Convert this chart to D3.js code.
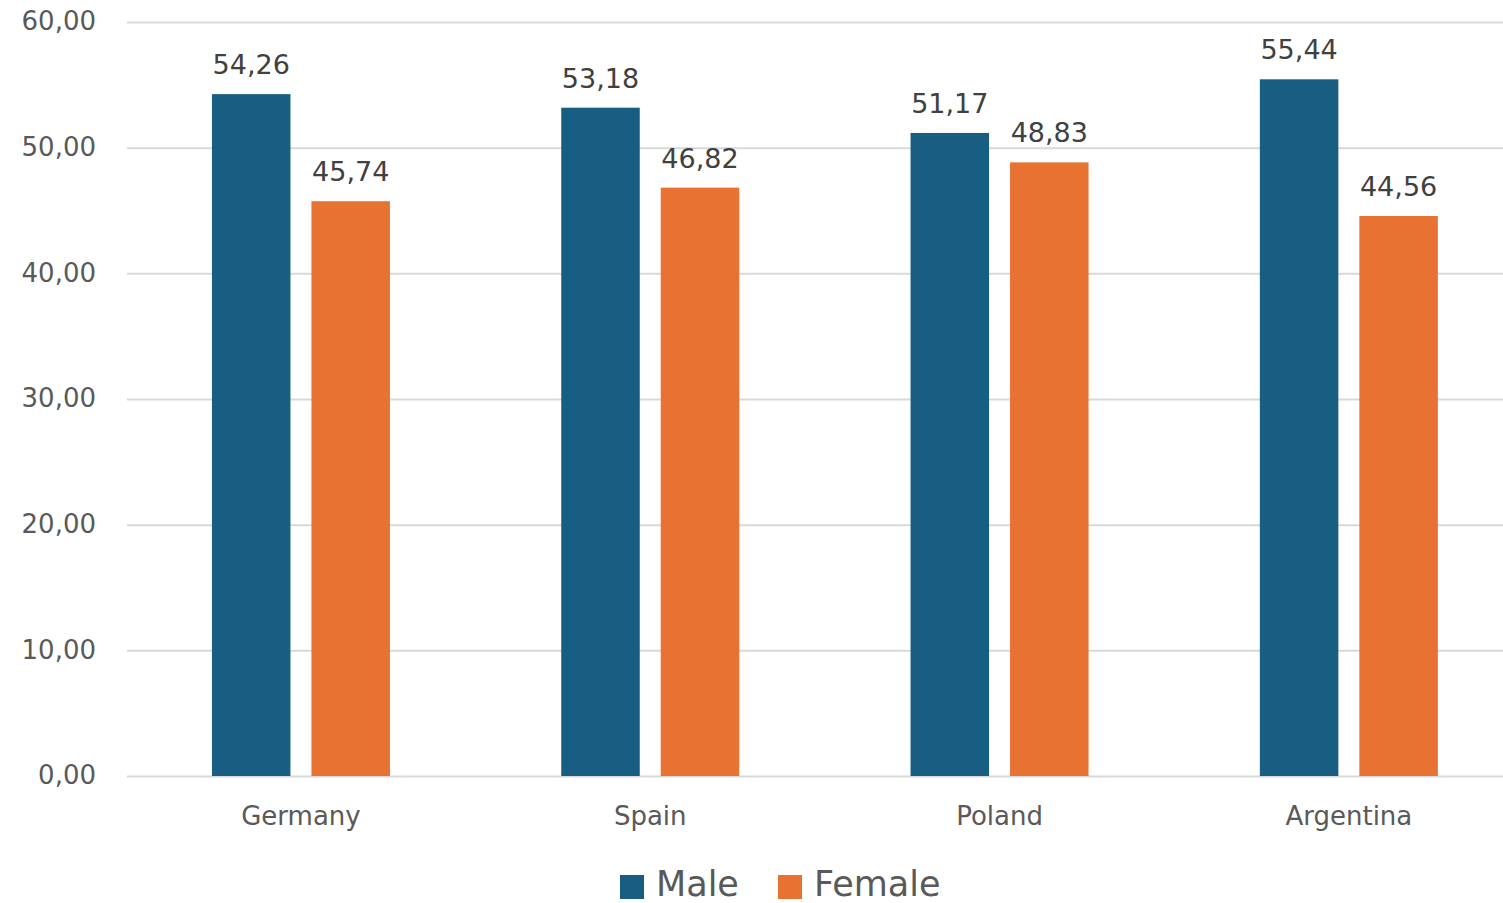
<!DOCTYPE html>
<html>
<head>
<meta charset="utf-8">
<script src="https://cdn.jsdelivr.net/npm/d3@7"></script>
<style>
  html, body { margin: 0; padding: 0; background: #fff; }
  svg { display: block; font-family: "DejaVu Sans", Inter, sans-serif; }
</style>
</head>
<body>
<svg id="chart" width="1503" height="903"></svg>
<script>
const categories = ["Germany", "Spain", "Poland", "Argentina"];
const seriesNames = ["Male", "Female"];
const maleValues = [54.26, 53.18, 51.17, 55.44];
const femaleValues = [45.74, 46.82, 48.83, 44.56];
const yTicks = [0, 10, 20, 30, 40, 50, 60];
const colors = ["#175E82", "#E87232"];

const seriesValues = [maleValues, femaleValues];
const fmt = v => d3.format(".2f")(v).replace(".", ",");
const FONT = "'DejaVu Sans', Inter, sans-serif";

const svg = d3.select("#chart");
const plotLeft = 126.3, plotRight = 1523.5, plotTop = 22, plotBottom = 776;

const x0 = d3.scaleBand().domain(categories).range([plotLeft, plotRight]).padding(0);
const groupW = 178;
const x1 = d3.scaleBand().domain(seriesNames).range([0, groupW]).paddingInner(0.211).paddingOuter(0);
const y = d3.scaleLinear().domain([0, 60]).range([plotBottom, plotTop]);

// gridlines + y tick labels
const yAxis = d3.axisLeft(y).tickValues(yTicks).tickSize(-(1503 - 127)).tickFormat(fmt).tickPadding(31);
const gy = svg.append("g").attr("transform", "translate(127,0)").call(yAxis);
gy.attr("font-family", null);
gy.select(".domain").remove();
gy.selectAll(".tick line").attr("stroke", "#D9D9D9").attr("stroke-width", 2);
gy.selectAll(".tick text").attr("fill", "#595959").style("font-family", FONT).style("font-size", "26px").attr("dy", "0.3em");

// bars
const groups = svg.append("g").selectAll("g").data(categories).join("g")
  .attr("transform", d => `translate(${x0(d) + (x0.bandwidth() - groupW) / 2},0)`);

groups.selectAll("rect").data((d, i) => seriesNames.map((s, j) => ({ s, v: seriesValues[j][i], j })))
  .join("rect")
  .attr("x", d => x1(d.s))
  .attr("width", x1.bandwidth())
  .attr("y", d => y(d.v))
  .attr("height", d => y(0) - y(d.v))
  .attr("fill", d => colors[d.j]);

groups.selectAll("text.lbl").data((d, i) => seriesNames.map((s, j) => ({ s, v: seriesValues[j][i], j })))
  .join("text")
  .attr("class", "lbl")
  .attr("x", d => x1(d.s) + x1.bandwidth() / 2)
  .attr("y", d => y(d.v) - 20)
  .attr("text-anchor", "middle")
  .attr("fill", "#404040")
  .style("font-size", "27px")
  .text(d => fmt(d.v));

// x axis labels
const xAxis = d3.axisBottom(x0).tickSize(0).tickPadding(31);
const gx = svg.append("g").attr("transform", `translate(0,${plotBottom})`).call(xAxis);
gx.attr("font-family", null);
gx.select(".domain").remove();
gx.selectAll(".tick text").attr("fill", "#595959").style("font-family", FONT).style("font-size", "26px");

// legend
const legend = svg.append("g");
const legendItems = [{ name: "Male", x: 620, tx: 656 }, { name: "Female", x: 778, tx: 814 }];
legendItems.forEach((it, j) => {
  legend.append("rect").attr("x", it.x).attr("y", 875).attr("width", 24).attr("height", 24).attr("fill", colors[j]);
  legend.append("text").attr("x", it.tx).attr("y", 896).attr("fill", "#595959").style("font-size", "35px").text(it.name);
});
</script>
</body>
</html>
